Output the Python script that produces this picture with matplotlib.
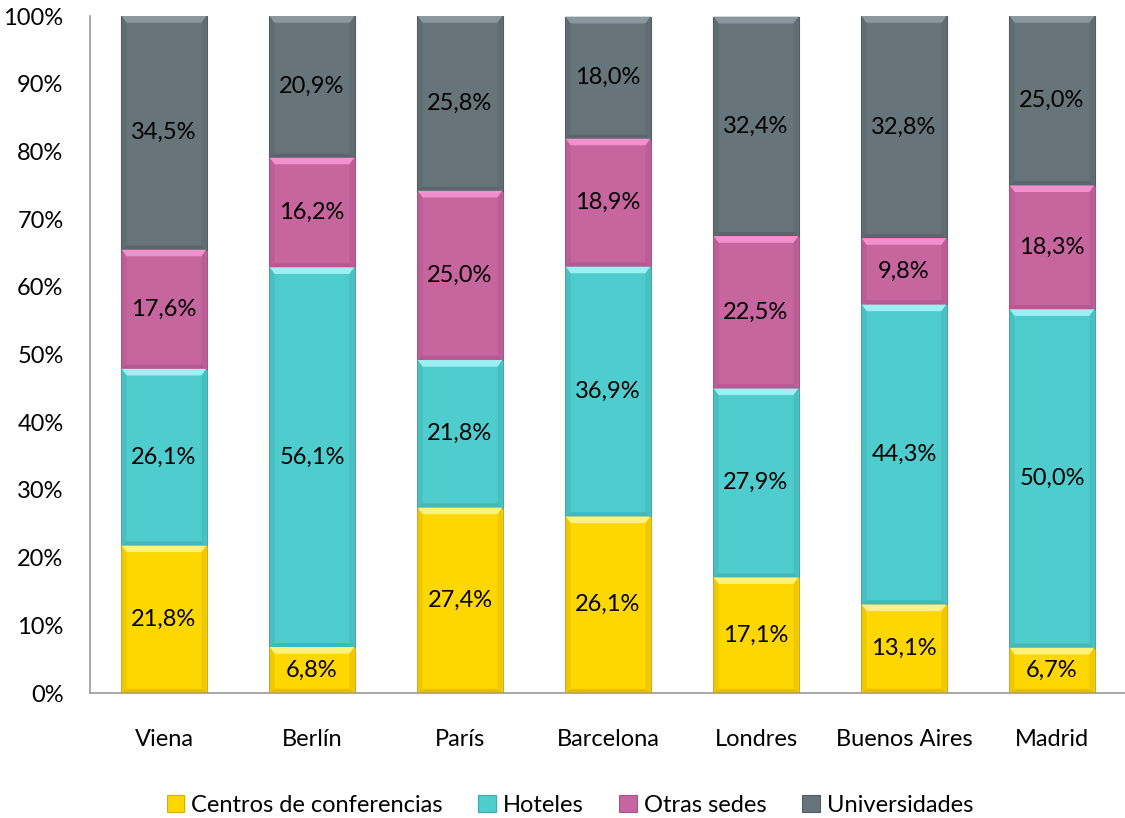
import matplotlib
matplotlib.use("Agg")
import matplotlib.pyplot as plt
from matplotlib.patches import Polygon
from matplotlib.ticker import PercentFormatter
import numpy as np

plt.rcParams['font.family'] = ['Lato', 'DejaVu Sans']

cities = ["Viena", "Berlín", "París", "Barcelona", "Londres", "Buenos Aires", "Madrid"]
series_names = ["Centros de conferencias", "Hoteles", "Otras sedes", "Universidades"]
centros = [21.8, 6.8, 27.4, 26.1, 17.1, 13.1, 6.7]
hoteles = [26.1, 56.1, 21.8, 36.9, 27.9, 44.3, 50.0]
otras = [17.6, 16.2, 25.0, 18.9, 22.5, 9.8, 18.3]
univ = [34.5, 20.9, 25.8, 18.0, 32.4, 32.8, 25.0]

colors = ["#FFD700", "#4ECCCE", "#C6659E", "#67757B"]
light = ["#FFF27A", "#9CF0F2", "#F090CC", "#8A989E"]
dark = ["#D4AE00", "#3DAAAC", "#A8528A", "#515D62"]

fig = plt.figure(figsize=(11.25, 8.18), dpi=100)
ax = fig.add_axes([90/1125, 1-693/818, 1036/1125, (693-16)/818])

x = np.arange(len(cities))
width = 0.575
bottom = np.zeros(len(cities))
data = [centros, hoteles, otras, univ]
bevel_y = 1.0   # data units
bevel_x = 0.035
FS = 17

for vals, c, lc, dc, name in zip(data, colors, light, dark, series_names):
    bars = ax.bar(x, vals, width, bottom=bottom, color=c, edgecolor=dc, linewidth=0.8,
                  label=name, zorder=2)
    for b, v in zip(bars, vals):
        x0, y0, w, h = b.get_x(), b.get_y(), b.get_width(), b.get_height()
        x1, y1 = x0 + w, y0 + h
        by = min(bevel_y, h / 3)
        # top highlight
        ax.add_patch(Polygon([[x0, y1], [x1, y1], [x1 - bevel_x, y1 - by], [x0 + bevel_x, y1 - by]],
                             closed=True, facecolor=lc, edgecolor='none', zorder=3))
        # side shading
        ax.add_patch(Polygon([[x0, y1], [x0 + bevel_x, y1 - by], [x0 + bevel_x, y0 + by * 0.6], [x0, y0]],
                             closed=True, facecolor=dc, edgecolor='none', alpha=0.35, zorder=3))
        ax.add_patch(Polygon([[x1, y1], [x1 - bevel_x, y1 - by], [x1 - bevel_x, y0 + by * 0.6], [x1, y0]],
                             closed=True, facecolor=dc, edgecolor='none', alpha=0.35, zorder=3))
        # bottom shading
        ax.add_patch(Polygon([[x0, y0], [x1, y0], [x1 - bevel_x, y0 + by * 0.6], [x0 + bevel_x, y0 + by * 0.6]],
                             closed=True, facecolor=dc, edgecolor='none', alpha=0.6, zorder=3))
        ax.text(x0 + w / 2, y0 + h / 2, f"{v:.1f}%".replace(".", ","), ha='center', va='center',
                fontsize=FS, color='black', zorder=4)
    bottom += np.array(vals)

ax.set_xlim(-0.5, len(cities) - 0.5)
ax.set_ylim(0, 100)
ax.set_yticks(np.arange(0, 101, 10))
ax.yaxis.set_major_formatter(PercentFormatter(decimals=0))
ax.set_xticks(x)
ax.set_xticklabels(cities)
ax.tick_params(axis='both', labelsize=FS, length=0)
ax.tick_params(axis='x', pad=26)
ax.tick_params(axis='y', pad=19)
for s in ['top', 'right']:
    ax.spines[s].set_visible(False)
for s in ['left', 'bottom']:
    ax.spines[s].set_color('#9A9A9A')
    ax.spines[s].set_linewidth(1.2)

handles, labels = ax.get_legend_handles_labels()
fig.legend(handles, labels, loc='center', bbox_to_anchor=(570/1125, 1-805/818), ncol=4,
           frameon=False, fontsize=FS, handlelength=0.75, handleheight=0.75, handletextpad=0.3,
           columnspacing=1.5)

fig.savefig("out.png", dpi=100)
